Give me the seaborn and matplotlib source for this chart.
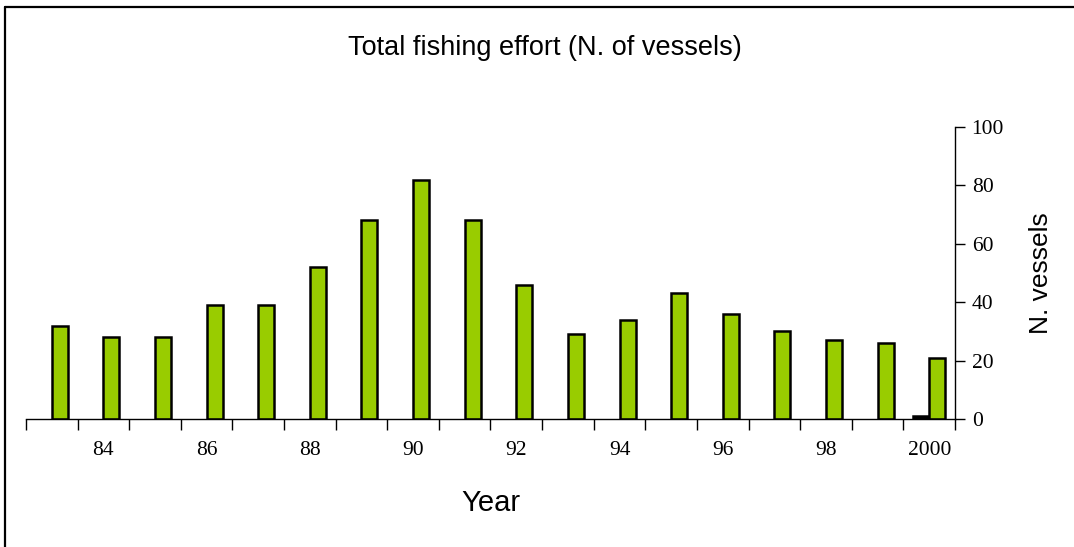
import matplotlib
matplotlib.use("Agg")
import matplotlib.pyplot as plt
from matplotlib.lines import Line2D
from matplotlib.ticker import FixedLocator, NullFormatter
import seaborn as sns
import pandas as pd
import numpy as np

# Fishing fleet size by year
years = ["83", "84", "85", "86", "87", "88", "89", "90", "91", "92",
         "93", "94", "95", "96", "97", "98", "99", "2000"]
fleet_a = [None] * 17 + [1]
fleet_b = [32, 28, 28, 39, 39, 52, 68, 82, 68, 46,
           29, 34, 43, 36, 30, 27, 26, 21]
group_names = ["Fleet A", "Fleet B"]
group_colors = ["#000000", "#99CC00"]
y_ticks = [0, 20, 40, 60, 80, 100]
shown_year_labels = ["84", "86", "88", "90", "92", "94", "96", "98", "2000"]

df = pd.DataFrame({
    "year": years * 2,
    "vessels": [np.nan if v is None else v for v in fleet_a] + fleet_b,
    "group": [group_names[0]] * len(years) + [group_names[1]] * len(years),
})

sns.set_style("white")
sans = ["Liberation Sans Narrow", "Liberation Sans", "DejaVu Sans"]
serif = ["Liberation Serif", "DejaVu Serif"]
plt.rcParams["font.family"] = sans
plt.rcParams["text.color"] = "black"
plt.rcParams["axes.labelcolor"] = "black"
plt.rcParams["xtick.color"] = "black"
plt.rcParams["ytick.color"] = "black"

fig = plt.figure(figsize=(10.74, 5.47), dpi=100)
ax = fig.add_axes([26 / 1074, (547 - 419) / 547, (955 - 26) / 1074, (419 - 127) / 547])

sns.barplot(data=df, x="year", y="vessels", hue="group", order=years,
            hue_order=group_names, palette=group_colors, width=0.62,
            edgecolor="black", linewidth=1.8, saturation=1, legend=False, ax=ax)

ax.set_xlim(-0.5, len(years) - 0.5)
ax.set_ylim(0, 100)

# y axis on the right
ax.yaxis.tick_right()
ax.yaxis.set_label_position("right")
ax.set_yticks(y_ticks)
ax.set_yticklabels([str(t) for t in y_ticks], family=serif, fontsize=15.5)
ax.tick_params(axis="y", direction="out", length=7, width=1, color="black", pad=5)
ax.set_ylabel("N. vessels", fontsize=19, rotation=90, labelpad=18)

# x axis: tick marks at category boundaries, labels on alternate years
ax.set_xticks(range(len(years)))
ax.set_xticklabels([y if y in shown_year_labels else "" for y in years],
                   family=serif, fontsize=15.5)
ax.tick_params(axis="x", which="major", length=0, pad=16)
ax.xaxis.set_minor_locator(FixedLocator(np.arange(-0.5, len(years), 1.0)))
ax.xaxis.set_minor_formatter(NullFormatter())
ax.tick_params(axis="x", which="minor", direction="out", length=8, width=1,
               color="black", bottom=True)
ax.set_xlabel("Year", fontsize=21, labelpad=21)

for side in ["top", "left"]:
    ax.spines[side].set_visible(False)
for side in ["bottom", "right"]:
    ax.spines[side].set_visible(True)
    ax.spines[side].set_color("black")
    ax.spines[side].set_linewidth(1)

fig.text(0.507, 1 - 48 / 547, "Total fishing effort (N. of vessels)",
         ha="center", va="center", fontsize=19.5)

# outer frame lines
fig.add_artist(Line2D([5 / 1074, 1], [1 - 7 / 547, 1 - 7 / 547],
                      transform=fig.transFigure, color="black", lw=1.6))
fig.add_artist(Line2D([5 / 1074, 5 / 1074], [0, 1 - 7 / 547],
                      transform=fig.transFigure, color="black", lw=1.6))

fig.savefig("out.png", dpi=100)
